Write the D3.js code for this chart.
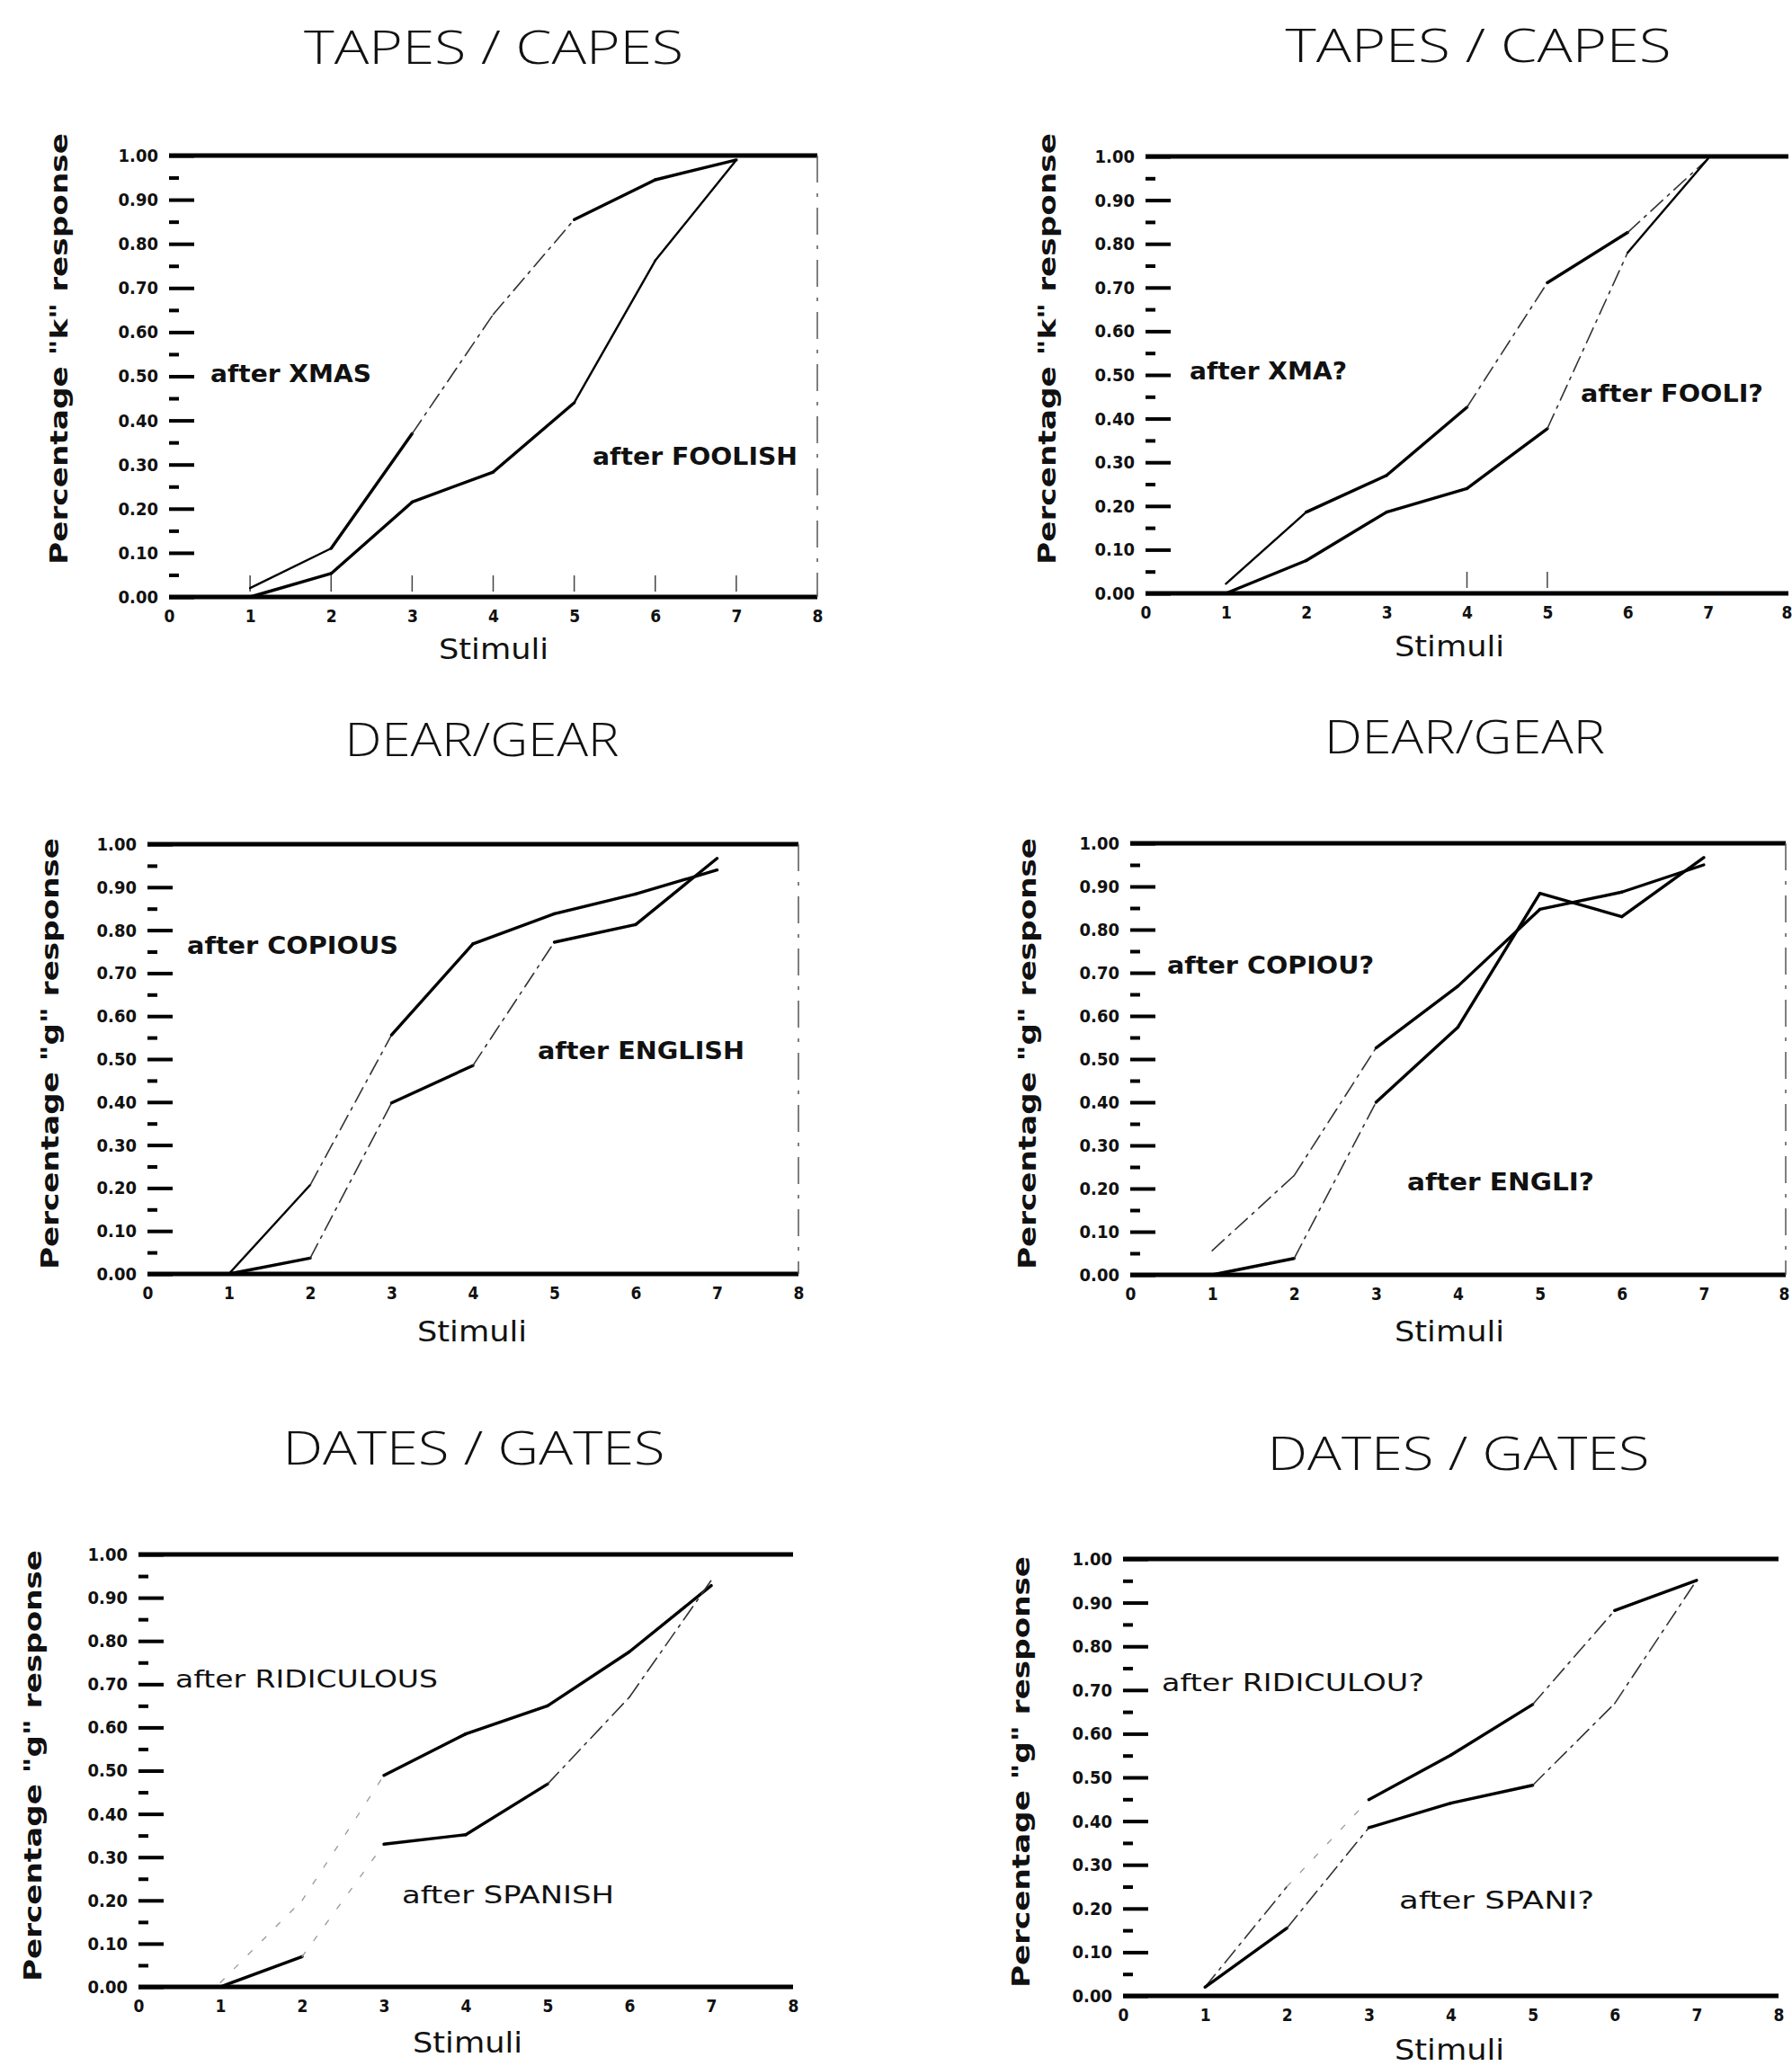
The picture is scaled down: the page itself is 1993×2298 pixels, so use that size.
<!DOCTYPE html>
<html><head><meta charset="utf-8">
<script src="https://cdn.jsdelivr.net/npm/d3@7"></script>
<style>body{margin:0;background:#fff}svg{display:block}</style>
</head><body>
<svg id="c" width="1993" height="2298"></svg>
<script>
// ---------- DATA ----------
const stimuli = [1, 2, 3, 4, 5, 6, 7];
const xTickValues = [0, 1, 2, 3, 4, 5, 6, 7, 8];
const yMajorTicks = [0, 0.1, 0.2, 0.3, 0.4, 0.5, 0.6, 0.7, 0.8, 0.9, 1.0];
const yMinorTicks = [0.05, 0.15, 0.25, 0.35, 0.45, 0.55, 0.65, 0.75, 0.85, 0.95];
const yTickLabels = ["0.00","0.10","0.20","0.30","0.40","0.50","0.60","0.70","0.80","0.90","1.00"];

const titles = ["TAPES / CAPES", "TAPES / CAPES", "DEAR/GEAR", "DEAR/GEAR", "DATES / GATES", "DATES / GATES"];
const yAxisTitles = ['Percentage "k" response', 'Percentage "k" response',
                     'Percentage "g" response', 'Percentage "g" response',
                     'Percentage "g" response', 'Percentage "g" response'];
const xAxisTitle = "Stimuli";
const seriesLabels = [
  ["after XMAS", "after FOOLISH"],
  ["after XMA?", "after FOOLI?"],
  ["after COPIOUS", "after ENGLISH"],
  ["after COPIOU?", "after ENGLI?"],
  ["after RIDICULOUS", "after SPANISH"],
  ["after RIDICULOU?", "after SPANI?"]
];

const tapesAfterXmas      = [0.02, 0.11, 0.37, 0.64, 0.855, 0.945, 0.99];
const tapesAfterFoolish   = [0.00, 0.053, 0.215, 0.283, 0.44, 0.762, 0.99];
const tapesAfterXmaQ      = [0.022, 0.186, 0.27, 0.426, 0.711, 0.826, 0.995];
const tapesAfterFooliQ    = [0.00, 0.075, 0.186, 0.24, 0.377, 0.78, 0.995];
const dearAfterCopious    = [0.00, 0.207, 0.556, 0.768, 0.838, 0.884, 0.94];
const dearAfterEnglish    = [0.00, 0.037, 0.398, 0.485, 0.772, 0.813, 0.967];
const dearAfterCopiouQ    = [0.056, 0.23, 0.526, 0.669, 0.847, 0.887, 0.95];
const dearAfterEngliQ     = [0.00, 0.038, 0.40, 0.574, 0.884, 0.83, 0.967];
const datesAfterRidiculous= [0.01, 0.20, 0.489, 0.585, 0.65, 0.775, 0.928];
const datesAfterSpanish   = [0.00, 0.07, 0.33, 0.352, 0.469, 0.67, 0.94];
const datesAfterRidiculouQ= [0.02, 0.25, 0.449, 0.551, 0.667, 0.882, 0.951];
const datesAfterSpaniQ    = [0.02, 0.155, 0.385, 0.441, 0.482, 0.669, 0.951];

const panelSeries = [
  [tapesAfterXmas, tapesAfterFoolish],
  [tapesAfterXmaQ, tapesAfterFooliQ],
  [dearAfterCopious, dearAfterEnglish],
  [dearAfterCopiouQ, dearAfterEngliQ],
  [datesAfterRidiculous, datesAfterSpanish],
  [datesAfterRidiculouQ, datesAfterSpaniQ]
];

// ---------- LAYOUT / STYLE ----------
const layout = [
  {x0:188, x8:909, yTop:173, yBot:664, tX:549, tY:51, tW:422, yt:[66,388], st:[549,721],
   lab:[[234,425,179],[659,517,228]], bold:true, border:true, innerTicks:[1,2,3,4,5,6,7]},
  {x0:1274, x8:1989, yTop:174, yBot:660, tX:1644, tY:49, tW:429, yt:[1165,388], st:[1612,718],
   lab:[[1323,422,175],[1758,447,203]], bold:true, border:false, innerTicks:[4,5]},
  {x0:164, x8:888, yTop:939, yBot:1417, tX:536, tY:821, tW:305, yt:[56,1172], st:[525,1480],
   lab:[[208,1061,235],[598,1178,230]], bold:true, border:true, innerTicks:[]},
  {x0:1257, x8:1986, yTop:938, yBot:1418, tX:1629, tY:818, tW:312, yt:[1143,1172], st:[1612,1480],
   lab:[[1298,1083,230],[1565,1324,208]], bold:true, border:true, innerTicks:[]},
  {x0:154, x8:882, yTop:1729, yBot:2210, tX:527, tY:1609, tW:425, yt:[37,1964], st:[520,2271],
   lab:[[195,1877,292],[447,2117,236]], bold:false, border:false, innerTicks:[]},
  {x0:1249, x8:1978, yTop:1734, yBot:2220, tX:1622, tY:1615, tW:425, yt:[1136,1971], st:[1612,2279],
   lab:[[1292,1881,292],[1556,2123,217]], bold:false, border:false, innerTicks:[]}
];
// segment styles (segment i joins point i and i+1): 'f' faint dashed, 'g' ghost dotted, 't' thin solid
const segStyles = [
  [["t","s","f","f","s","s"], ["s","s","s","s","t","t"]],
  [["t","s","s","f","s","f"], ["s","s","s","s","f","t"]],
  [["t","f","s","s","s","s"], ["s","f","s","f","s","s"]],
  [["f","f","s","s","s","s"], ["s","f","s","s","s","s"]],
  [["g","g","s","s","s","s"], ["s","g","s","s","f","f"]],
  [["f","g","s","s","f","s"], ["s","f","s","s","f","f"]]
];

const svg = d3.select("#c");
svg.append("rect").attr("width",1993).attr("height",2298).attr("fill","#fff");

layout.forEach((L, p) => {
  const g = svg.append("g");
  const x = d3.scaleLinear().domain([0, 8]).range([L.x0, L.x8]);
  const y = d3.scaleLinear().domain([0, 1]).range([L.yBot, L.yTop]);

  // title
  g.append("text").attr("x", L.tX).attr("y", L.tY + 20)
    .attr("text-anchor","middle").attr("font-family","Open Sans, Liberation Sans, Arial")
    .attr("font-size",52).attr("font-weight",300).attr("fill","#111")
    .attr("textLength", L.tW).attr("lengthAdjust","spacingAndGlyphs")
    .text(titles[p]);

  // frame lines
  g.append("line").attr("x1",x(0)).attr("x2",x(8)).attr("y1",y(1)).attr("y2",y(1))
    .attr("stroke","#000").attr("stroke-width",5);
  g.append("line").attr("x1",x(0)).attr("x2",x(8)).attr("y1",y(0)).attr("y2",y(0))
    .attr("stroke","#000").attr("stroke-width",5);
  if (L.border) {
    g.append("line").attr("x1",x(8)).attr("x2",x(8)).attr("y1",y(1)).attr("y2",y(0))
      .attr("stroke","#555").attr("stroke-width",1.5).attr("stroke-dasharray","30 12 4 12");
  }

  // y axis: major ticks (inside) + labels
  const yAx = d3.axisLeft(y).tickValues(yMajorTicks).tickSize(-28).tickPadding(12)
    .tickFormat((d, i) => yTickLabels[i]);
  const ya = g.append("g").attr("transform",`translate(${L.x0},0)`).call(yAx);
  ya.select(".domain").remove();
  ya.selectAll(".tick line").attr("stroke","#000").attr("stroke-width",4);
  ya.selectAll(".tick text").attr("font-family","DejaVu Sans Condensed, DejaVu Sans")
    .attr("font-weight","bold").attr("font-size",20).attr("fill","#111");
  const yMin = d3.axisLeft(y).tickValues(yMinorTicks).tickSize(-11).tickFormat("");
  const ym = g.append("g").attr("transform",`translate(${L.x0},0)`).call(yMin);
  ym.select(".domain").remove();
  ym.selectAll(".tick line").attr("stroke","#000").attr("stroke-width",4);

  // x axis labels
  const xAx = d3.axisBottom(x).tickValues(xTickValues).tickSize(0).tickPadding(15).tickFormat(d3.format("d"));
  const xa = g.append("g").attr("transform",`translate(0,${L.yBot})`).call(xAx);
  xa.select(".domain").remove();
  xa.selectAll(".tick text").attr("font-family","DejaVu Sans Condensed, DejaVu Sans")
    .attr("font-weight","bold").attr("font-size",19).attr("fill","#111");
  if (L.x8 > 1980) {
    xa.selectAll(".tick text").filter(d => d === 8).attr("text-anchor","end").attr("dx", 4);
  }
  // small inner x ticks
  g.selectAll(".itick").data(L.innerTicks).enter().append("line")
    .attr("x1", d => x(d)).attr("x2", d => x(d))
    .attr("y1", y(0) - 6).attr("y2", y(0) - 24)
    .attr("stroke","#444").attr("stroke-width",1.5);

  // axis titles
  g.append("text").attr("transform",`translate(${L.yt[0]},${L.yt[1]}) rotate(-90)`)
    .attr("text-anchor","middle").attr("dy","0.35em")
    .attr("font-family","DejaVu Sans, Verdana").attr("font-weight","bold")
    .attr("font-size",27).attr("fill","#111")
    .attr("textLength",480).attr("lengthAdjust","spacingAndGlyphs")
    .text(yAxisTitles[p]);
  g.append("text").attr("x",L.st[0]).attr("y",L.st[1] + 12)
    .attr("text-anchor","middle").attr("font-family","DejaVu Sans, Verdana")
    .attr("font-size",32).attr("fill","#111")
    .attr("textLength",122).attr("lengthAdjust","spacingAndGlyphs")
    .text(xAxisTitle);

  // series
  const line = d3.line().x(d => x(d[0])).y(d => y(d[1]));
  panelSeries[p].forEach((vals, s) => {
    const pts = stimuli.map((st, i) => [st, vals[i]]);
    for (let i = 0; i < pts.length - 1; i++) {
      const st = segStyles[p][s][i];
      const path = g.append("path").datum([pts[i], pts[i+1]]).attr("d", line)
        .attr("fill","none").attr("stroke-linecap","round");
      if (st === "s") path.attr("stroke","#000").attr("stroke-width",3.4);
      else if (st === "t") path.attr("stroke","#000").attr("stroke-width",2.4);
      else if (st === "f") path.attr("stroke","#333").attr("stroke-width",1.6).attr("stroke-dasharray","18 7 3 7");
      else path.attr("stroke","#999").attr("stroke-width",1.3).attr("stroke-dasharray","6 16");
    }
  });

  // series labels
  seriesLabels[p].forEach((t, s) => {
    const lb = L.lab[s];
    g.append("text").attr("x", lb[0]).attr("y", lb[1])
      .attr("font-family", "DejaVu Sans, Verdana")
      .attr("font-weight", L.bold ? "bold" : "normal")
      .attr("font-size", 27).attr("fill","#111")
      .attr("textLength", lb[2]).attr("lengthAdjust","spacingAndGlyphs")
      .text(t);
  });
});
</script>
</body></html>
